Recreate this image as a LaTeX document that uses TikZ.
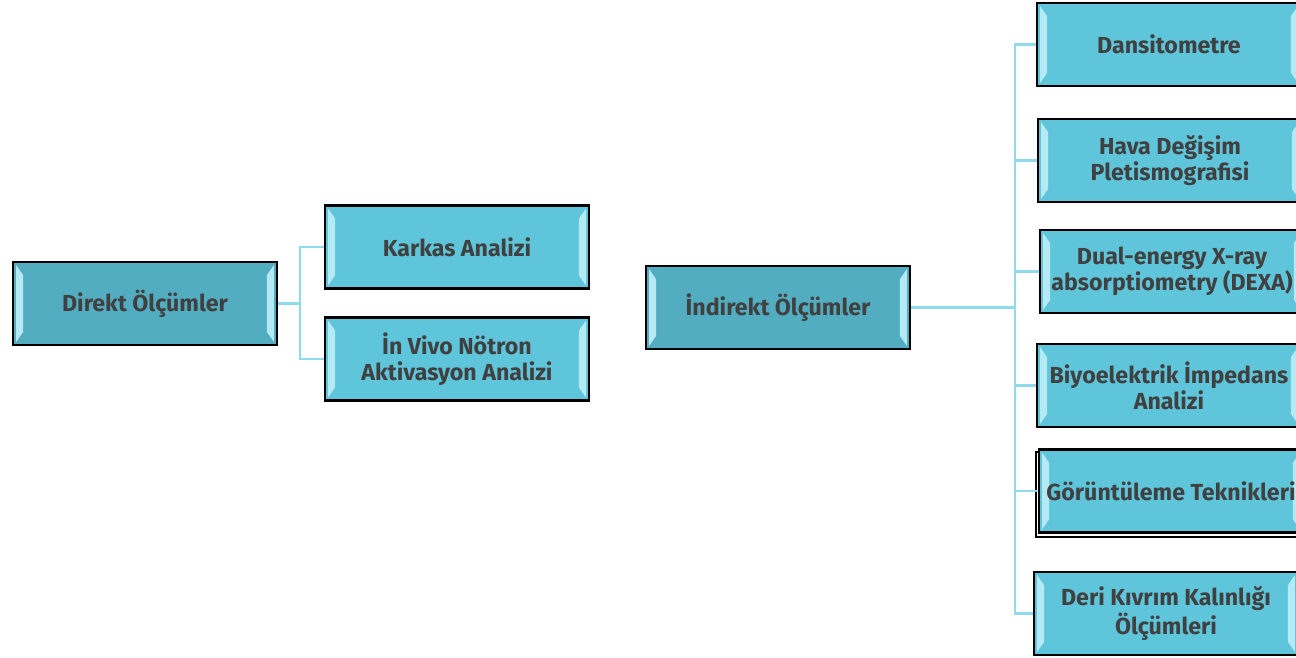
\documentclass[tikz,border=0pt]{standalone}
\usepackage{fontspec}
\setsansfont{Fira Sans}
\definecolor{parentfill}{HTML}{53ADC1}
\definecolor{childfill}{HTML}{5EC5DA}
\definecolor{bevel}{HTML}{B5EAF4}
\definecolor{linkblue}{HTML}{8FDAEC}
\definecolor{textgray}{HTML}{404040}
\tikzset{
  box/.style={draw=black, line width=1.2pt, minimum width=5.28cm, minimum height=1.66cm,
    align=center, text=textgray, font=\sffamily\bfseries\fontsize{13.2}{15}\selectfont,
    inner sep=0pt,
    path picture={
      \fill[bevel] ([shift={(3,3)}]path picture bounding box.north west)
        -- ([shift={(10,13)}]path picture bounding box.north west)
        -- ([shift={(10,-13)}]path picture bounding box.south west)
        -- ([shift={(3,-3)}]path picture bounding box.south west) -- cycle;
      \fill[bevel] ([shift={(-3,3)}]path picture bounding box.north east)
        -- ([shift={(-10,13)}]path picture bounding box.north east)
        -- ([shift={(-10,-13)}]path picture bounding box.south east)
        -- ([shift={(-3,-3)}]path picture bounding box.south east) -- cycle;
    }},
  parentbox/.style={box, fill=parentfill},
  childbox/.style={box, fill=childfill},
  link/.style={draw=linkblue, line width=1.6pt}
}
\begin{document}
\begin{tikzpicture}[x=0.02cm, y=-0.02cm]
  \path[use as bounding box, clip] (0,0) rectangle (1296,657);

  % sol taraf
  \node[parentbox] (direkt) at (145,303.5) {Direkt Ölçümler};
  \node[childbox] (karkas) at (457,247) {Karkas Analizi};
  \node[childbox] (notron) at (457,359) {İn Vivo Nötron\\Aktivasyon Analizi};

  % sag taraf
  \node[parentbox] (indirekt) at (778,307.5) {İndirekt Ölçümler};
  \node[childbox] (dansito) at (1169,44.5) {Dansitometre};
  \node[childbox] (hava) at (1170,160.5) {Hava Değişim\\Pletismografisi};
  \node[childbox] (dexa) at (1172,271.5) {Dual-energy X-ray\\absorptiometry (DEXA)};
  \node[childbox] (biyo) at (1169,385.5) {Biyoelektrik İmpedans\\Analizi};
  \draw[line width=1.2pt] (1036,452) rectangle (1298,537);
  \node[childbox] (goruntu) at (1171,491) {Görüntüleme Teknikleri};
  \node[childbox] (deri) at (1166,613.5) {Deri Kıvrım Kalınlığı\\Ölçümleri};

  % baglantilar
  \draw[link] (direkt.east) -- (300,303.5) coordinate (dj);
  \draw[link] (dj) |- (karkas.west);
  \draw[link] (dj) |- (notron.west);
  \draw[link] (indirekt.east) -- (1015,307.5) coordinate (ij);
  \foreach \c in {dansito,hava,dexa,biyo,goruntu,deri}
    \draw[link] (ij) |- (\c.west);
\end{tikzpicture}
\end{document}
